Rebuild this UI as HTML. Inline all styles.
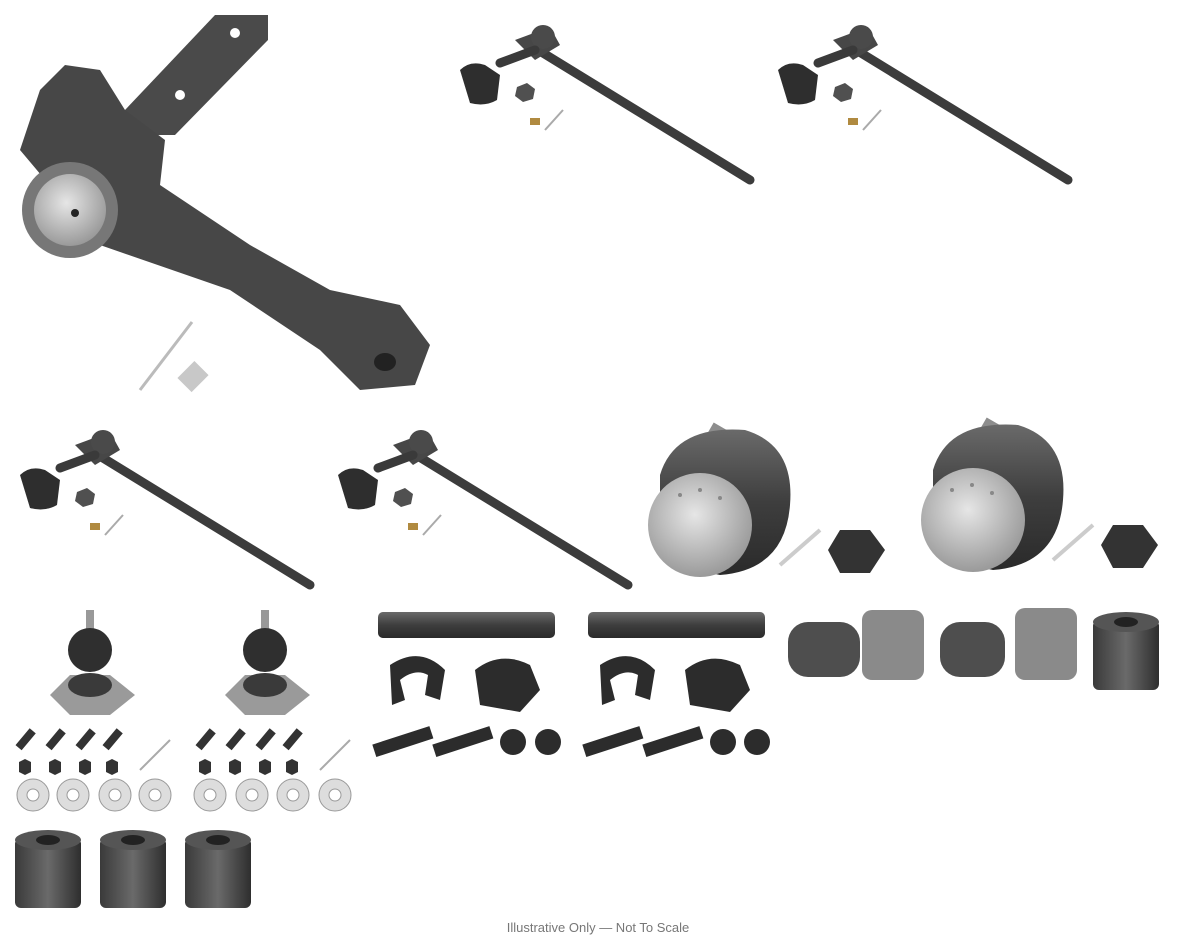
<!DOCTYPE html>
<html><head><meta charset="utf-8"><style>
html,body{margin:0;padding:0;background:#fff;}
svg{display:block}
</style></head><body>
<svg width="1200" height="941" viewBox="0 0 1200 941" xmlns="http://www.w3.org/2000/svg">
<defs>
<radialGradient id="face" cx="45%" cy="40%" r="60%"><stop offset="0" stop-color="#e6e6e6"/><stop offset="1" stop-color="#9a9a9a"/></radialGradient>
<linearGradient id="metal" x1="0" y1="0" x2="0" y2="1"><stop offset="0" stop-color="#6a6a6a"/><stop offset="0.5" stop-color="#3e3e3e"/><stop offset="1" stop-color="#2a2a2a"/></linearGradient>
<linearGradient id="bush" x1="0" y1="0" x2="1" y2="0"><stop offset="0" stop-color="#3a3a3a"/><stop offset="0.5" stop-color="#6a6a6a"/><stop offset="1" stop-color="#2e2e2e"/></linearGradient>
<g id="tierod">
  <line x1="75" y1="30" x2="295" y2="165" stroke="#3c3c3c" stroke-width="9" stroke-linecap="round"/>
  <path d="M60,25 L95,12 L105,30 L80,45 Z" fill="#474747"/>
  <circle cx="88" cy="22" r="12" fill="#4a4a4a"/>
  <line x1="45" y1="48" x2="80" y2="35" stroke="#3a3a3a" stroke-width="9" stroke-linecap="round"/>
  <path d="M5,55 Q15,45 30,50 L45,60 L42,85 Q30,92 15,88 Z" fill="#2e2e2e"/>
  <polygon points="62,72 72,68 80,74 78,84 68,87 60,81" fill="#505050"/>
  <rect x="75" y="103" width="10" height="7" fill="#b08a40"/>
  <line x1="90" y1="115" x2="108" y2="95" stroke="#aaa" stroke-width="2"/>
</g>
<g id="bj">
  <rect x="60" y="10" width="18" height="30" fill="#8d8d8d" transform="rotate(30 69 25)"/>
  <path d="M15,60 Q30,10 100,15 Q150,30 145,90 Q140,155 75,160 Q20,150 15,100 Z" fill="url(#metal)"/>
  <circle cx="55" cy="110" r="52" fill="url(#face)"/>
  <line x1="140" y1="110" x2="175" y2="150" stroke="#ccc" stroke-width="4" transform="rotate(90 155 130)"/>
  <polygon points="195,115 225,115 240,135 225,158 195,158 183,135" fill="#333"/>
</g>
<g id="sbj">
  <rect x="36" y="0" width="8" height="20" fill="#999"/>
  <circle cx="40" cy="40" r="22" fill="#2f2f2f"/>
  <path d="M0,85 L20,65 L60,65 L85,85 L60,105 L20,105 Z" fill="#9a9a9a"/>
  <ellipse cx="40" cy="75" rx="22" ry="12" fill="#3a3a3a"/>
</g>
<g id="bushing">
  <rect x="0" y="8" width="66" height="70" rx="6" fill="url(#bush)"/>
  <ellipse cx="33" cy="10" rx="33" ry="10" fill="#555"/>
  <ellipse cx="33" cy="10" rx="12" ry="5" fill="#222"/>
</g>
<g id="washer"><circle r="16" fill="#ddd" stroke="#999"/><circle r="6" fill="#fff" stroke="#999"/></g>
<g id="sbolt"><rect x="-4" y="-12" width="8" height="22" fill="#333" transform="rotate(40)"/></g>
<g id="snut"><polygon points="-6,-5 0,-8 6,-5 6,5 0,8 -6,5" fill="#333"/></g>
<g id="hw">
  <use href="#sbolt" x="25" y="740"/><use href="#sbolt" x="55" y="740"/><use href="#sbolt" x="85" y="740"/><use href="#sbolt" x="112" y="740"/>
  <use href="#snut" x="25" y="767"/><use href="#snut" x="55" y="767"/><use href="#snut" x="85" y="767"/><use href="#snut" x="112" y="767"/>
  <line x1="140" y1="770" x2="170" y2="740" stroke="#aaa" stroke-width="2"/>
</g>
</defs>

<!-- idler arm -->
<path d="M125,110 L215,15 L268,15 L268,40 L175,135 L125,135 Z" fill="#4a4a4a"/>
<circle cx="235" cy="33" r="5" fill="#fff"/><circle cx="180" cy="95" r="5" fill="#fff"/>
<path d="M20,150 L40,90 L65,65 L100,70 L125,110 L165,140 L160,185 L250,245 L330,290 L400,305 L430,345 L415,385 L360,390 L320,350 L230,290 L100,245 Z" fill="#474747"/>
<circle cx="70" cy="210" r="48" fill="#777"/>
<circle cx="70" cy="210" r="36" fill="url(#face)"/>
<circle cx="75" cy="213" r="4" fill="#222"/>
<ellipse cx="385" cy="362" rx="11" ry="9" fill="#222"/>
<line x1="140" y1="390" x2="192" y2="322" stroke="#bbb" stroke-width="3"/>
<rect x="182" y="365" width="20" height="24" fill="#c8c8c8" transform="rotate(45 193 378)"/>

<use href="#tierod" x="455" y="15"/>
<use href="#tierod" x="773" y="15"/>
<use href="#tierod" x="15" y="420"/>
<use href="#tierod" x="333" y="420"/>

<use href="#bj" x="645" y="415"/>
<use href="#bj" x="918" y="410"/>
<g fill="#888"><circle cx="680" cy="495" r="2"/><circle cx="700" cy="490" r="2"/><circle cx="720" cy="498" r="2"/><circle cx="952" cy="490" r="2"/><circle cx="972" cy="485" r="2"/><circle cx="992" cy="493" r="2"/></g>

<use href="#sbj" x="50" y="610"/>
<use href="#sbj" x="225" y="610"/>
<use href="#hw" x="0" y="0"/>
<use href="#hw" x="180" y="0"/>
<use href="#washer" x="33" y="795"/><use href="#washer" x="73" y="795"/><use href="#washer" x="115" y="795"/><use href="#washer" x="155" y="795"/>
<use href="#washer" x="210" y="795"/><use href="#washer" x="252" y="795"/><use href="#washer" x="293" y="795"/><use href="#washer" x="335" y="795"/>

<use href="#bushing" x="15" y="830"/>
<use href="#bushing" x="100" y="830"/>
<use href="#bushing" x="185" y="830"/>

<!-- sleeves -->
<rect x="378" y="612" width="177" height="26" rx="5" fill="url(#metal)"/>
<rect x="588" y="612" width="177" height="26" rx="5" fill="url(#metal)"/>
<g fill="#2c2c2c">
<path d="M390,665 Q420,645 445,670 L440,700 L425,695 L428,675 Q415,668 400,680 L405,700 L392,705 Z"/>
<path d="M475,670 Q500,650 530,665 L540,690 L520,712 L480,705 Z"/>
<path d="M600,665 Q630,645 655,670 L650,700 L635,695 L638,675 Q625,668 610,680 L615,700 L602,705 Z"/>
<path d="M685,670 Q710,650 740,665 L750,690 L730,712 L690,705 Z"/>
<rect x="373" y="735" width="60" height="13" transform="rotate(-18 403 742)"/>
<rect x="433" y="735" width="60" height="13" transform="rotate(-18 463 742)"/>
<rect x="583" y="735" width="60" height="13" transform="rotate(-18 613 742)"/>
<rect x="643" y="735" width="60" height="13" transform="rotate(-18 673 742)"/>
<circle cx="513" cy="742" r="13"/><circle cx="548" cy="742" r="13"/>
<circle cx="723" cy="742" r="13"/><circle cx="757" cy="742" r="13"/>
</g>

<!-- right bushings -->
<g>
<rect x="788" y="622" width="72" height="55" rx="20" fill="#4e4e4e"/>
<rect x="862" y="610" width="62" height="70" rx="10" fill="#8a8a8a"/>
<rect x="940" y="622" width="65" height="55" rx="20" fill="#4e4e4e"/>
<rect x="1015" y="608" width="62" height="72" rx="10" fill="#8a8a8a"/>
<use href="#bushing" x="1093" y="612"/>
</g>

<text x="598" y="932" text-anchor="middle" font-family="Liberation Sans, sans-serif" font-size="13" fill="#777">Illustrative Only — Not To Scale</text>
</svg>
</body></html>
